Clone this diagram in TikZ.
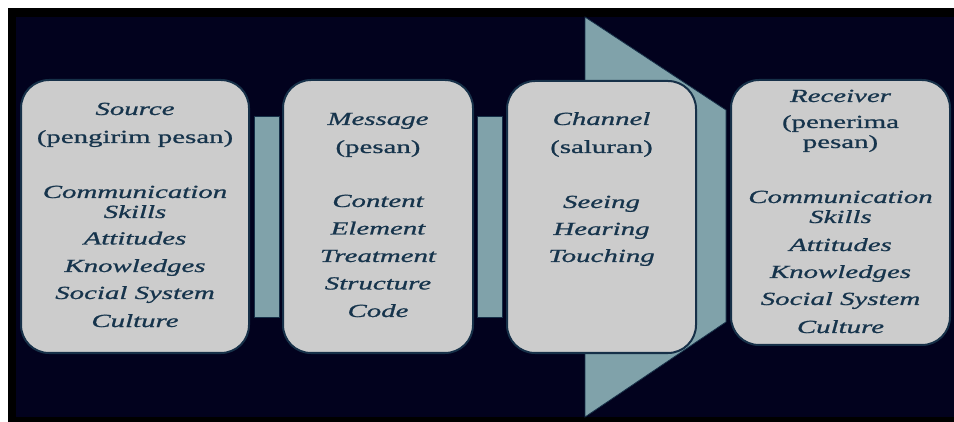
\documentclass[tikz,border=0pt]{standalone}
\usepackage{fontspec}
\setmainfont{Liberation Serif}[FakeStretch=1.56,FakeBold=0.9]
\definecolor{navybg}{RGB}{2,2,30}
\definecolor{boxgray}{RGB}{204,204,204}
\definecolor{boxedge}{RGB}{22,48,72}
\definecolor{tealbar}{RGB}{128,162,170}
\definecolor{txt}{RGB}{22,52,76}
\begin{document}
\begin{tikzpicture}[x=1pt,y=-1pt,
  box/.style={draw=boxedge,line width=2pt,fill=boxgray,rounded corners=28pt,inner sep=0pt},
  bar/.style={fill=tealbar,draw=boxedge,line width=0.8pt},
  it/.style={anchor=base,text=txt,font=\fontsize{18.5}{20}\selectfont\itshape,inner sep=0pt},
  up/.style={anchor=base,text=txt,font=\fontsize{18.5}{20}\selectfont,inner sep=0pt}]
\useasboundingbox (0,0) rectangle (954,422);
\fill[white] (0,0) rectangle (954,422);
\fill[black] (8,8) rectangle (954,422);
\fill[navybg] (16,17) rectangle (954,417);
% bars between boxes
\draw[bar] (254,116) rectangle (279,317);
\draw[bar] (477,116) rectangle (502,317);
% big arrow behind the channel box
\draw[bar] (585,17) -- (726,110) -- (726,322) -- (585,417) -- cycle;
% boxes
\node[box,minimum width=228pt,minimum height=273pt] (src) at (135,216.5) {};
\node[box,minimum width=190pt,minimum height=273pt] (msg) at (378,216.5) {};
\node[box,minimum width=189pt,minimum height=272pt] (chn) at (601.5,217) {};
\node[box,minimum width=219pt,minimum height=265pt] (rcv) at (840.5,212.5) {};
% Source texts
\node[it] (s1) at (135,115) {Source};
\node[up] (s2) at (135,143) {(pengirim pesan)};
\node[it] (s3) at (135,198) {Communication};
\node[it] (s4) at (135,218) {Skills};
\node[it] (s5) at (135,244.5) {Attitudes};
\node[it] (s6) at (135,272) {Knowledges};
\node[it] (s7) at (135,299) {Social System};
\node[it] (s8) at (135,327) {Culture};
% Message texts
\node[it] (m1) at (378,125) {Message};
\node[up] (m2) at (378,153) {(pesan)};
\node[it] (m3) at (378,207) {Content};
\node[it] (m4) at (378,234.5) {Element};
\node[it] (m5) at (378,262) {Treatment};
\node[it] (m6) at (378,289.5) {Structure};
\node[it] (m7) at (378,317) {Code};
% Channel texts
\node[it] (c1) at (601.5,125) {Channel};
\node[up] (c2) at (601.5,153) {(saluran)};
\node[it] (c3) at (601.5,208) {Seeing};
\node[it] (c4) at (601.5,235) {Hearing};
\node[it] (c5) at (601.5,262) {Touching};
% Receiver texts
\node[it] (r1) at (840.5,102) {Receiver};
\node[up] (r2) at (840.5,128) {(penerima};
\node[up] (r3) at (840.5,148) {pesan)};
\node[it] (r4) at (840.5,203) {Communication};
\node[it] (r5) at (840.5,223) {Skills};
\node[it] (r6) at (840.5,251) {Attitudes};
\node[it] (r7) at (840.5,278) {Knowledges};
\node[it] (r8) at (840.5,305) {Social System};
\node[it] (r9) at (840.5,333) {Culture};
\end{tikzpicture}
\end{document}
